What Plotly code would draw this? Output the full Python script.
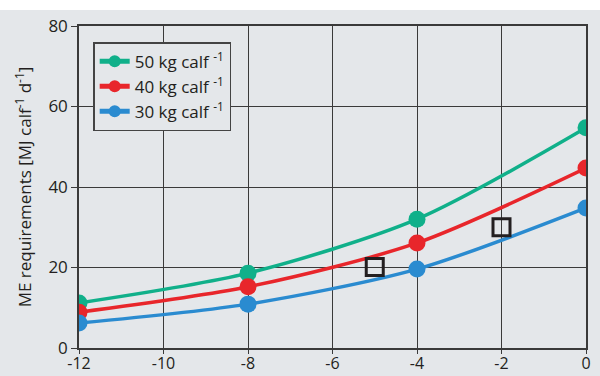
import plotly.graph_objects as go

# Days relative to calving and ME requirement per birth weight class
days = [-12, -8, -4, 0]
me_50kg = [11.2, 18.6, 32.0, 54.7]
me_40kg = [8.9, 15.2, 26.1, 44.7]
me_30kg = [6.2, 10.9, 19.6, 34.8]

# Separate observations
obs_days = [-5, -2]
obs_me = [20.1, 30.0]

series = [
    ("50 kg calf <sup>-1</sup>", me_50kg, "#10b08a"),
    ("40 kg calf <sup>-1</sup>", me_40kg, "#e8262b"),
    ("30 kg calf <sup>-1</sup>", me_30kg, "#2a8bd0"),
]

BG = "#e4e7ea"
INK = "#231f20"
GRID = "#3a3a3a"

fig = go.Figure()
for name, vals, col in series:
    fig.add_trace(go.Scatter(
        x=days, y=vals, name=name, mode="lines+markers",
        line=dict(color=col, width=3.5, shape="spline", smoothing=0.8),
        marker=dict(color=col, size=17),
    ))

fig.add_trace(go.Scatter(
    x=obs_days, y=obs_me, mode="markers", showlegend=False,
    marker=dict(symbol="square-open", size=17, color=INK, line=dict(width=3)),
))

# gray panel behind the chart
fig.add_shape(type="rect", xref="paper", yref="paper",
              x0=-0.2, x1=1.1, y0=-0.2, y1=1.05,
              fillcolor=BG, line=dict(width=0), layer="below")

fig.update_layout(
    width=600, height=376,
    margin=dict(l=79, r=14, t=26, b=28),
    paper_bgcolor="white", plot_bgcolor=BG,
    font=dict(family="Open Sans", color=INK, size=16),
    legend=dict(x=0.028, y=0.95, xanchor="left", yanchor="top",
                bgcolor=BG, bordercolor="#444", borderwidth=1.5,
                font=dict(size=17), itemsizing="constant", tracegroupgap=0),
    xaxis=dict(range=[-12, 0], tickvals=[-12, -10, -8, -6, -4, -2, 0],
               ticktext=["-12", "-10", "-8", "-6", "-4", "-2", "0"],
               showgrid=True, gridcolor=GRID, gridwidth=1,
               showline=True, linecolor=GRID, linewidth=1.5, mirror=True,
               ticks="outside", ticklen=4, tickcolor=GRID,
               zeroline=False, tickfont=dict(size=16), automargin=False,
               ticklabelstandoff=-4),
    yaxis=dict(range=[0, 80], tickvals=[0, 20, 40, 60, 80],
               showgrid=True, gridcolor=GRID, gridwidth=1,
               showline=True, linecolor=GRID, linewidth=1.5, mirror=True,
               ticks="outside", ticklen=6, tickcolor=GRID,
               zeroline=False, tickfont=dict(size=17), automargin=False,
               title=dict(text="ME requirements [MJ calf<sup>-1</sup> d<sup>-1</sup>]",
                          font=dict(size=17), standoff=12)),
)

fig.write_html("out.html")
